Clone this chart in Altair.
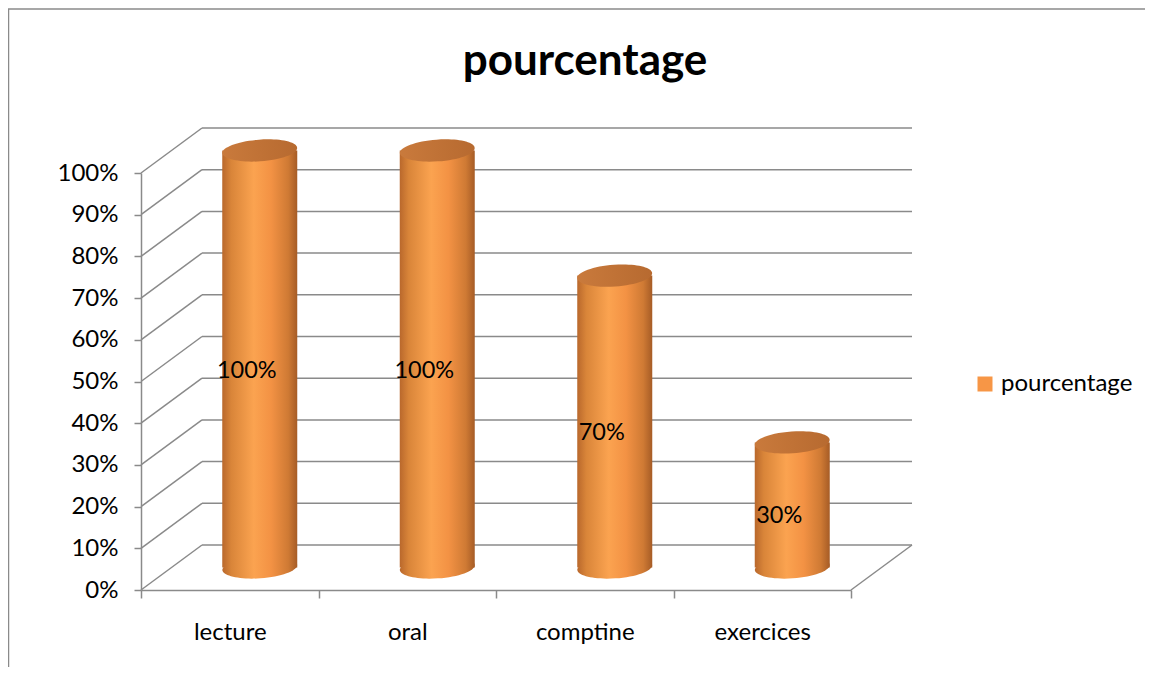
import altair as alt
import pandas as pd

categories = ["lecture", "oral", "comptine", "exercices"]
values = [1.0, 1.0, 0.7, 0.3]
value_labels = ["100%", "100%", "70%", "30%"]
series_name = "pourcentage"
chart_title = "pourcentage"
tick_values = [0, 0.1, 0.2, 0.3, 0.4, 0.5, 0.6, 0.7, 0.8, 0.9, 1.0]

FONT = "Lato"
FS = 24
GRID = "#8a8a8a"
W, H = 710, 417
DX, DY = 61, -45          # depth of the 3D box (back wall offset)
MX, MY = 30, -22.5        # mid-depth offset (cylinders)

bars = pd.DataFrame({"cat": categories, "v": values, "lab": value_labels,
                     "series": [series_name] * len(categories)})
bars["zero"] = 0.0
bars["mid"] = bars["v"] / 2
ticks = pd.DataFrame({"v": tick_values})
title_df = pd.DataFrame({"t": [chart_title]})

xs = alt.Scale(domain=categories, paddingInner=0, paddingOuter=0)
ys = alt.Scale(domain=[0, 1], nice=False)

X = alt.X("cat:N", scale=xs, sort=categories,
          axis=alt.Axis(title=None, tickBand="extent", labelAngle=0, labelAlign="center",
                        labelBaseline="alphabetic",
                        labelFont=FONT, labelFontSize=FS, labelColor="black",
                        labelPadding=41, tickSize=8, tickColor=GRID, tickWidth=1.5,
                        domainColor=GRID, domainWidth=1.5, grid=False))
Y = alt.Y("v:Q", scale=ys,
          axis=alt.Axis(title=None, values=tick_values, format=".0%",
                        labelFont=FONT, labelFontSize=FS, labelColor="black",
                        labelPadding=16, tickSize=7, tickColor=GRID, tickWidth=1.5,
                        domainColor=GRID, domainWidth=1.5, grid=False))

body_grad = alt.Gradient(gradient="linear", x1=0, x2=1, y1=0, y2=0, stops=[
    alt.GradientStop(offset=0, color="#b9682c"),
    alt.GradientStop(offset=0.12, color="#d98539"),
    alt.GradientStop(offset=0.42, color="#fba350"),
    alt.GradientStop(offset=0.65, color="#f39244"),
    alt.GradientStop(offset=0.88, color="#cf7a34"),
    alt.GradientStop(offset=1, color="#a65c26"),
])
cap_grad = alt.Gradient(gradient="linear", x1=0, x2=1, y1=0, y2=0, stops=[
    alt.GradientStop(offset=0, color="#c97a3c"),
    alt.GradientStop(offset=1, color="#b76a30"),
])
ELLIPSE = "M -1 0 A 1 0.29 0 1 0 1 0 A 1 0.29 0 1 0 -1 0 Z"

base_ticks = alt.Chart(ticks)

frame = alt.Chart(ticks.head(1)).mark_rect(
    fill=None, stroke="#8a8a8a", strokeWidth=1.5).encode(
    x=alt.value(-132.5), x2=alt.value(1100), y=alt.value(-164), y2=alt.value(700))

title_mark = alt.Chart(title_df).mark_text(
    font=FONT, fontSize=44, fontWeight="bold", color="black",
    align="center", baseline="alphabetic").encode(
    x=alt.value(444), y=alt.value(-98), text="t:N")

back_grid = base_ticks.mark_rule(color=GRID, strokeWidth=1.5,
                                 xOffset=DX, x2Offset=DX, yOffset=DY).encode(
    y=alt.Y("v:Q", scale=ys), x=alt.value(0), x2=alt.value("width"))

side_diag = base_ticks.mark_rule(color=GRID, strokeWidth=1.5, x2Offset=DX, y2Offset=DY).encode(
    y=alt.Y("v:Q", scale=ys), y2="v:Q", x=alt.value(0), x2=alt.value(0))

right_diag = base_ticks.transform_filter("datum.v == 0").mark_rule(
    color=GRID, strokeWidth=1.5, x2Offset=DX, y2Offset=DY).encode(
    y=alt.Y("v:Q", scale=ys), y2="v:Q", x=alt.value("width"), x2=alt.value("width"))

b = alt.Chart(bars)

bottom_cap = b.mark_point(shape=ELLIPSE, size=75 * 75, filled=True, fill=body_grad,
                          opacity=1, strokeWidth=0, angle=356,
                          xOffset=MX, yOffset=MY).encode(
    x=alt.X("cat:N", scale=xs, sort=categories),
    y=alt.Y("zero:Q", scale=ys))

body = b.mark_bar(size=75, fill=body_grad, xOffset=MX, yOffset=MY, y2Offset=MY).encode(
    x=X, y=Y, y2="zero:Q",
    color=alt.Color("series:N", scale=alt.Scale(range=["#f79646"]),
                    legend=alt.Legend(title=None, orient="none", legendX=832, legendY=199,
                                      symbolType="square", symbolSize=225,
                                      symbolStrokeWidth=0, labelFont=FONT,
                                      labelFontSize=FS, labelColor="black",
                                      labelOffset=4)))

top_cap = b.mark_point(shape=ELLIPSE, size=75 * 75, filled=True, fill=cap_grad,
                       opacity=1, strokeWidth=0, angle=356,
                       xOffset=MX, yOffset=MY).encode(
    x=alt.X("cat:N", scale=xs, sort=categories),
    y=alt.Y("v:Q", scale=ys))

labels = b.mark_text(font=FONT, fontSize=FS - 0.5, color="black", align="center",
                     baseline="middle", dx=17, dy=-11).encode(
    x=alt.X("cat:N", scale=xs, sort=categories),
    y=alt.Y("mid:Q", scale=ys),
    text="lab:N")

chart = alt.layer(frame, title_mark, back_grid, side_diag, right_diag,
                  bottom_cap, body, top_cap, labels).properties(
    width=W, height=H,
    padding={"left": 133, "top": 165, "right": 294, "bottom": 77},
    autosize=alt.AutoSizeParams(type="none"),
).configure(background="white").configure_view(stroke=None)

chart.save("out.html", embed_options={"renderer": "svg", "actions": False})
